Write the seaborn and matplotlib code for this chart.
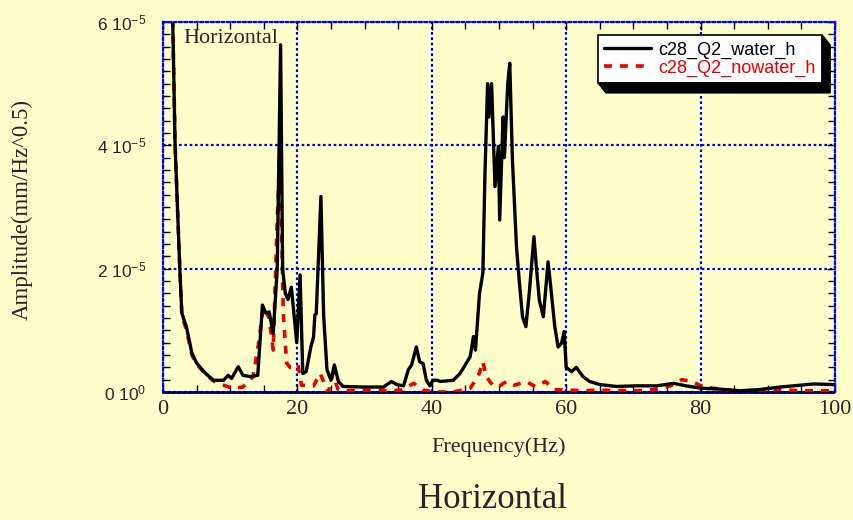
import matplotlib
matplotlib.use("Agg")
import matplotlib.pyplot as plt
import seaborn as sns
from matplotlib.ticker import MultipleLocator, FixedLocator
from matplotlib.patches import Polygon
from matplotlib.transforms import IdentityTransform

# Spectral amplitude, horizontal component (units of 1e-5 mm/Hz^0.5)
water_f = [1.4, 1.8, 2.5, 2.8, 3.5, 4.3, 5.0, 6.25, 7.5, 9.0,
           9.7, 10.2, 11.2, 11.9, 13.0, 14.1, 14.8, 15.3, 15.8, 16.4,
           17.0, 17.5, 17.8, 18.2, 18.6, 19.1, 19.9, 20.4, 20.8, 21.3,
           22.0, 22.4, 22.6, 22.8, 23.5, 23.9, 24.4, 25.0, 25.5, 26.1,
           26.8, 29.8, 32.8, 34.0, 34.8, 35.8, 36.5, 37.0, 37.7, 38.2,
           38.7, 39.2, 39.7, 40.2, 40.9, 41.2, 43.2, 44.2, 45.7, 46.2,
           46.5, 47.1, 47.6, 47.9, 48.3, 48.5, 48.9, 49.4, 49.9, 50.1,
           50.6, 50.8, 51.3, 51.6, 52.0, 52.6, 53.0, 53.5, 54.0, 54.5,
           55.2, 55.6, 56.0, 56.6, 57.3, 57.8, 58.3, 58.8, 59.3, 59.7,
           60.0, 60.8, 61.5, 62.5, 63.5, 65.0, 67.5, 70.5, 73.5, 76.0,
           77.8, 80.2, 82.5, 85.9, 88.8, 91.8, 94.8, 96.8, 100.0]
water_a = [6.3, 4.0, 2.0, 1.28, 1.05, 0.63, 0.47, 0.31, 0.19, 0.19,
           0.27, 0.22, 0.41, 0.27, 0.25, 0.27, 1.41, 1.28, 1.3, 0.95,
           2.0, 5.63, 2.0, 1.6, 1.5, 1.7, 0.8, 1.9, 0.3, 0.33,
           0.73, 0.89, 1.25, 1.27, 3.17, 1.25, 0.36, 0.19, 0.44, 0.17,
           0.09, 0.08, 0.08, 0.17, 0.12, 0.1, 0.36, 0.44, 0.73, 0.49,
           0.46, 0.19, 0.1, 0.19, 0.19, 0.17, 0.19, 0.3, 0.57, 0.9,
           0.68, 1.6, 1.93, 3.49, 5.0, 4.46, 5.0, 3.33, 3.98, 2.79,
           4.46, 3.8, 5.0, 5.33, 3.76, 2.36, 1.82, 1.22, 1.06, 1.6,
           2.52, 1.98, 1.49, 1.22, 2.11, 1.6, 1.06, 0.73, 0.79, 0.98,
           0.4, 0.33, 0.4, 0.25, 0.17, 0.12, 0.09, 0.1, 0.1, 0.14,
           0.1, 0.06, 0.05, 0.02, 0.04, 0.08, 0.11, 0.13, 0.12]

nowater_f = [1.4, 1.8, 2.5, 2.8, 3.5, 4.3, 5.0, 6.25, 7.5, 9.5,
             10.5, 11.9, 13.4, 14.3, 14.9, 15.8, 16.4, 17.0, 17.4, 17.9,
             18.4, 18.9, 19.4, 20.1, 20.6, 22.4, 23.4, 23.9, 24.6, 25.3,
             26.0, 26.8, 30.0, 33.7, 35.4, 37.3, 38.7, 40.6, 43.2, 45.7,
             46.9, 47.6, 48.1, 49.2, 50.1, 51.1, 52.3, 54.0, 55.4, 56.9,
             58.2, 60.0, 62.5, 64.5, 71.0, 73.2, 75.5, 77.2, 78.7, 80.5,
             82.7, 84.7, 87.2, 89.7, 92.0, 94.6, 97.0, 100.0]
nowater_a = [6.3, 4.0, 2.0, 1.25, 1.0, 0.6, 0.45, 0.3, 0.18, 0.09,
             0.06, 0.08, 0.25, 0.84, 1.38, 1.2, 0.68, 2.79, 4.0, 1.28,
             0.47, 0.4, 0.4, 0.44, 0.11, 0.1, 0.3, 0.17, 0.0, 0.3,
             0.05, 0.02, 0.03, 0.02, 0.03, 0.14, 0.03, 0.0, 0.0, 0.06,
             0.25, 0.49, 0.25, 0.09, 0.1, 0.17, 0.11, 0.17, 0.09, 0.17,
             0.04, 0.03, 0.02, 0.03, 0.02, 0.04, 0.1, 0.2, 0.17, 0.08,
             0.05, 0.02, 0.02, 0.04, 0.04, 0.02, 0.02, 0.02]

series_names = ["c28_Q2_water_h", "c28_Q2_nowater_h"]
series_colors = ["black", "#E60000"]
x_ticks = [0, 20, 40, 60, 80, 100]
y_ticks = [0.0, 2e-5, 4e-5, 6e-5]
y_tick_labels = ["0 10$^{0}$", "2 10$^{-5}$", "4 10$^{-5}$", "6 10$^{-5}$"]

sns.set_style("ticks")
BG = "#FFFFCC"
plt.rcParams["font.family"] = ["Liberation Serif", "DejaVu Serif"]
plt.rcParams["mathtext.default"] = "regular"

fig = plt.figure(figsize=(8.54, 5.20), dpi=100, facecolor=BG)
ax = fig.add_axes([163 / 854, 1 - 392 / 520, 672 / 854, 370 / 520])
ax.set_facecolor(BG)

sns.lineplot(x=water_f, y=[v * 1e-5 for v in water_a], ax=ax,
             color=series_colors[0], lw=2.4, sort=False, estimator=None,
             label=series_names[0], zorder=4)
sns.lineplot(x=nowater_f, y=[v * 1e-5 for v in nowater_a], ax=ax,
             color=series_colors[1], lw=2.6, sort=False, estimator=None,
             linestyle=(0, (2.2, 2.2)), label=series_names[1], zorder=3)

ax.set_xlim(0, 100)
ax.set_ylim(0, 6e-5)
ax.set_xlabel("")
ax.set_ylabel("")

# grid and frame: blue dotted
ax.grid(True, which="major", color="#0000FF", linestyle=(0, (1.2, 1.2)), lw=1.6)
for side in ["left", "top", "right"]:
    ax.spines[side].set_color("#0000FF")
    ax.spines[side].set_linestyle((0, (1.2, 1.2)))
    ax.spines[side].set_linewidth(1.6)
ax.spines["bottom"].set_color("#000066")
ax.spines["bottom"].set_linestyle((0, (1.2, 0.8)))
ax.spines["bottom"].set_linewidth(2.0)

ax.xaxis.set_major_locator(FixedLocator(x_ticks))
ax.xaxis.set_minor_locator(MultipleLocator(5))
ax.yaxis.set_major_locator(FixedLocator(y_ticks))
ax.yaxis.set_minor_locator(MultipleLocator(2e-6))
ax.set_xticklabels([str(t) for t in x_ticks], fontsize=16, family="Liberation Serif")
ax.set_yticklabels(y_tick_labels, fontsize=12.5, family="Liberation Sans")
ax.tick_params(which="both", direction="in", top=True, right=True,
               color="black", width=1)
ax.tick_params(which="major", length=6)
ax.tick_params(which="minor", length=5)
ax.tick_params(axis="x", which="major", pad=6)
ax.tick_params(axis="y", which="major", pad=12)

ax.text(0.03, 0.955, "Horizontal", transform=ax.transAxes, fontsize=16,
        ha="left", va="center", family="Liberation Serif")

fig.text(22 / 854, 1 - 210 / 520, "Amplitude(mm/Hz^0.5)", rotation=90,
         ha="center", va="center", fontsize=16.5)
fig.text(499 / 854, 1 - 447 / 520, "Frequency(Hz)", ha="center", va="center",
         fontsize=16)
fig.text(493 / 854, 1 - 500 / 520, "Horizontal", ha="center", va="center",
         fontsize=25)

leg = ax.legend(loc="upper left", bbox_to_anchor=(598 / 854, 1 - 35 / 520),
                bbox_transform=fig.transFigure, borderaxespad=0,
                frameon=True, fancybox=False, framealpha=1,
                facecolor="white", edgecolor="black",
                prop={"family": "Liberation Sans", "size": 13},
                handlelength=2.6, handletextpad=0.4, labelspacing=0.05,
                borderpad=0.35)
leg.get_frame().set_linewidth(1.2)
for txt, col in zip(leg.get_texts(), series_colors):
    txt.set_color(col)

# extruded black shadow to the lower right of the legend box
fig.canvas.draw()
bb = leg.get_window_extent()
dx, dy = 8, 10
shadow = Polygon([(bb.x1, bb.y1), (bb.x1 + dx, bb.y1 - dy),
                  (bb.x1 + dx, bb.y0 - dy), (bb.x0 + dx, bb.y0 - dy),
                  (bb.x0, bb.y0), (bb.x1, bb.y0)],
                 closed=True, facecolor="black", edgecolor="black",
                 transform=IdentityTransform(), zorder=6)
fig.add_artist(shadow)

fig.savefig("out.png", dpi=100, facecolor=BG)
